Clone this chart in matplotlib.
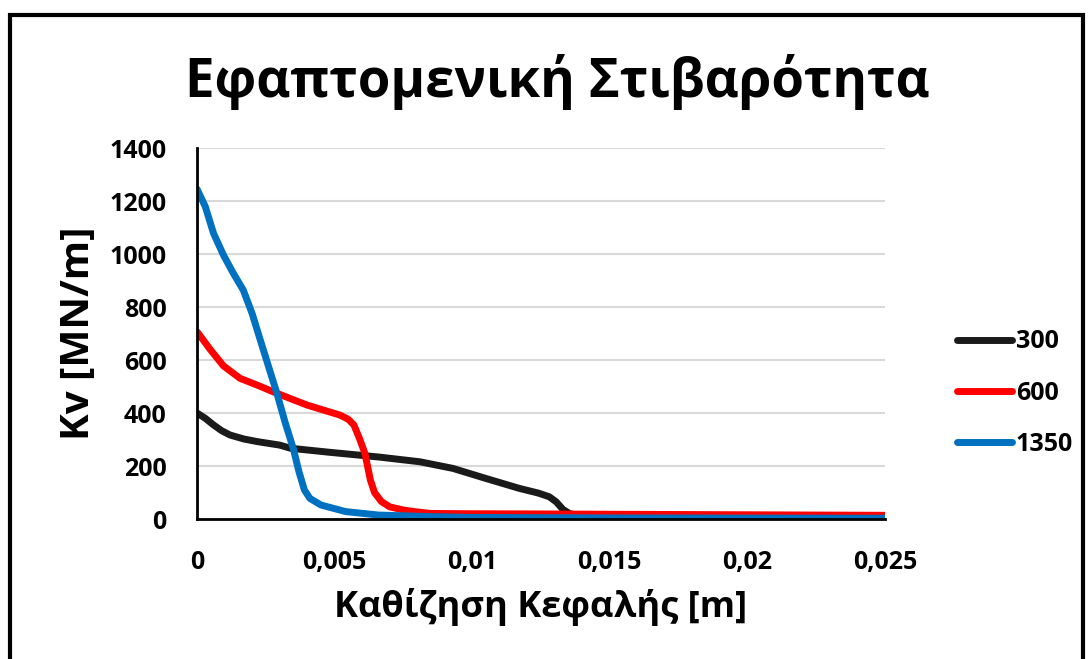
import matplotlib
matplotlib.use("Agg")
import matplotlib.pyplot as plt
from matplotlib.patches import Rectangle

plt.rcParams['font.family'] = ['Open Sans', 'DejaVu Sans']
plt.rcParams['font.weight'] = 'bold'

# tangent stiffness curves, settlement [m] vs Kv [MN/m]
x300 = [0, 0.0003, 0.0006, 0.0009, 0.0012, 0.0017, 0.0022, 0.003, 0.0034,
        0.0048, 0.0066, 0.0081, 0.0093, 0.0105, 0.0117, 0.0124, 0.0128,
        0.01305, 0.0133, 0.01355, 0.0138, 0.015, 0.02, 0.025]
k300 = [400, 380, 355, 333, 317, 302, 292, 279, 267,
        252, 234, 216, 191, 153, 116, 98, 84,
        65, 36, 20, 15, 14, 12, 10]

x600 = [0, 0.00047, 0.00096, 0.00156, 0.00217, 0.00277, 0.00338, 0.004,
        0.0046, 0.0052, 0.0055, 0.0057, 0.0059, 0.0061, 0.0063, 0.00645,
        0.0067, 0.007, 0.0075, 0.0079, 0.0085, 0.01, 0.013, 0.015, 0.02,
        0.025]
k600 = [707, 641, 578, 531, 506, 480, 455, 430,
        411, 392, 376, 355, 305, 248, 147, 100,
        66, 46, 34, 28, 21, 20, 19, 18, 16,
        14]

x1350 = [0, 0.0003, 0.0006, 0.00096, 0.00132, 0.00168, 0.002, 0.0023,
         0.0026, 0.0029, 0.0032, 0.0035, 0.0037, 0.0039, 0.0041, 0.0045,
         0.0054, 0.0066, 0.0085, 0.01, 0.015, 0.025]
k1350 = [1245, 1179, 1078, 996, 927, 864, 776, 675,
         575, 475, 365, 265, 180, 110, 78, 53,
         28, 15, 9, 6, 4, 3]

series_names = ['300', '600', '1350']
xticks = [0, 0.005, 0.01, 0.015, 0.02, 0.025]
xtick_labels = ['0', '0,005', '0,01', '0,015', '0,02', '0,025']
yticks = [0, 200, 400, 600, 800, 1000, 1200, 1400]

fig = plt.figure(figsize=(10.88, 6.59), dpi=100)
ax = fig.add_axes([0.1811, 0.2124, 0.8134 - 0.1811, 0.7754 - 0.2124])

# outer frame of the chart area
fig.patches.append(Rectangle((10 / 1088, -0.05), 1073 / 1088, 1.05 - 15 / 659,
                             transform=fig.transFigure, fill=False,
                             edgecolor='black', linewidth=3))

colors = ['#1a1a1a', '#ff0000', '#0070c0']
for xs, ks, c, name in zip([x300, x600, x1350], [k300, k600, k1350], colors, series_names):
    ax.plot(xs, ks, color=c, linewidth=5, label=name,
            solid_capstyle='round', solid_joinstyle='round')

ax.set_xlim(0, 0.025)
ax.set_ylim(0, 1400)
ax.set_xticks(xticks)
ax.set_xticklabels(xtick_labels)
ax.set_yticks(yticks)
ax.tick_params(axis='x', length=0, labelsize=18, pad=22)
ax.tick_params(axis='y', length=0, labelsize=18, pad=22)
for lab in ax.get_xticklabels() + ax.get_yticklabels():
    lab.set_fontweight('bold')

ax.grid(axis='y', color='#d9d9d9', linewidth=1.5)
ax.set_axisbelow(True)
for s in ['top', 'right']:
    ax.spines[s].set_visible(False)
ax.spines['left'].set_linewidth(2)
ax.spines['bottom'].set_linewidth(2)

ax.set_xlabel('Καθίζηση Κεφαλής [m]', fontsize=26, fontweight='bold')
ax.set_ylabel('Kv [MN/m]', fontsize=29, fontweight='bold')
ax.xaxis.set_label_coords(0.5, -0.237)
ax.yaxis.set_label_coords(-0.173, 0.5)
ax.xaxis.label.set_va('center')
ax.yaxis.label.set_va('center')

fig.text(0.512, 0.876, 'Εφαπτομενική Στιβαρότητα', ha='center', va='center',
         fontsize=38, fontweight='bold')

leg = fig.legend(*ax.get_legend_handles_labels(), loc='center left',
                 bbox_to_anchor=(957 / 1088, 1 - 393 / 659), frameon=False,
                 fontsize=18, handlelength=2.2, handletextpad=0.15,
                 labelspacing=1.05, borderpad=0, borderaxespad=0)
for t in leg.get_texts():
    t.set_fontweight('bold')

fig.savefig('out.png', dpi=100)
